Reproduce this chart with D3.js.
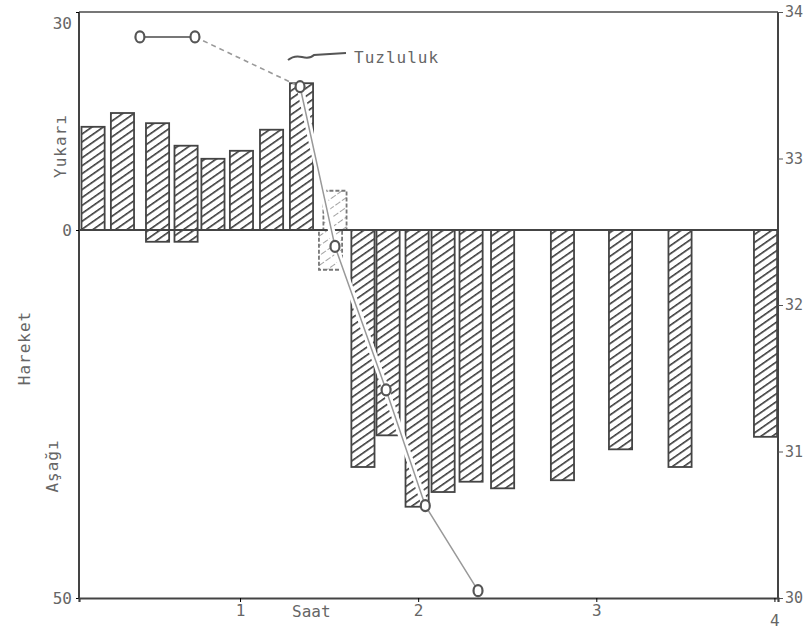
<!DOCTYPE html>
<html>
<head>
<meta charset="utf-8">
<script src="https://cdn.jsdelivr.net/npm/d3@7"></script>
<style>
  body { margin: 0; background: #fff; }
  text { font-family: "DejaVu Sans Mono", monospace; fill: #666; }
</style>
</head>
<body>
<svg id="chart"></svg>
<script>
// Hareket (cm) bars: time in hours, top and bottom of each bar
const barTime = [0.175, 0.34, 0.537, 0.697, 0.848, 1.008, 1.177, 1.345, 1.533, 1.508,
                 1.69, 1.831, 1.994, 2.14, 2.297, 2.474, 2.81, 3.136, 3.47, 3.95];
const barHigh = [14.2, 16.1, 14.7, 11.6, 9.8, 10.9, 13.8, 20.2, 5.4, 0,
                 0, 0, 0, 0, 0, 0, 0, 0, 0, 0];
const barLow  = [0, 0, -1.6, -1.6, 0, 0, 0, 0, 0, -5.4,
                 -32.2, -27.9, -37.6, -35.6, -34.2, -35.1, -34.0, -29.8, -32.2, -28.1];

// Tuzluluk (salinity) line
const salTime  = [0.438, 0.747, 1.337, 1.533, 1.82, 2.04, 2.336];
const salValue = [33.83, 33.83, 33.49, 32.40, 31.42, 30.63, 30.05];

const hourTicks = [1, 2, 3, 4];
const leftTicks = [30, 0, -50];
const rightTicks = [30, 31, 32, 33, 34];

const W = 811, H = 632;
const svg = d3.select("#chart").attr("width", W).attr("height", H);

const x = d3.scaleLinear().domain([0.096, 4.02]).range([79, 778]);
const y = d3.scaleLinear().domain([-50, 0, 30]).range([598, 230, 12]);
const yR = d3.scaleLinear().domain([30, 34]).range([598, 12]);
const barW = x(0.13) - x(0);

// hatch patterns
const defs = svg.append("defs");
defs.append("pattern")
    .attr("id", "hatch")
    .attr("patternUnits", "userSpaceOnUse")
    .attr("width", 6.5).attr("height", 6.5)
    .attr("patternTransform", "rotate(55)")
    .append("line")
    .attr("x1", 0).attr("y1", 0).attr("x2", 0).attr("y2", 6.5)
    .attr("stroke", "#3a3a3a").attr("stroke-width", 3.2);
defs.append("pattern")
    .attr("id", "hatchLight")
    .attr("patternUnits", "userSpaceOnUse")
    .attr("width", 8).attr("height", 8)
    .attr("patternTransform", "rotate(55)")
    .append("line")
    .attr("x1", 0).attr("y1", 0).attr("x2", 0).attr("y2", 8)
    .attr("stroke", "#999").attr("stroke-width", 1.8)
    .attr("stroke-dasharray", "3,2");

const bars = barTime.map((t, i) => ({ t, hi: barHigh[i], lo: barLow[i], light: i === 8 || i === 9 }));

// frame top
svg.append("line").attr("x1", x.range()[0]).attr("x2", x.range()[1])
    .attr("y1", y(30)).attr("y2", y(30))
    .attr("stroke", "#777").attr("stroke-width", 2);

// bars
svg.selectAll(".bar")
    .data(bars)
    .enter().append("rect")
    .attr("class", "bar")
    .attr("x", d => x(d.t) - barW / 2)
    .attr("width", barW)
    .attr("y", d => y(d.hi))
    .attr("height", d => y(d.lo) - y(d.hi))
    .attr("fill", d => d.light ? "url(#hatchLight)" : "url(#hatch)")
    .attr("stroke", d => d.light ? "#777" : "#444")
    .attr("stroke-width", 1.8)
    .attr("stroke-dasharray", d => d.light ? "4,2" : null);

// zero line
svg.append("line").attr("x1", x.range()[0]).attr("x2", x.range()[1])
    .attr("y1", y(0)).attr("y2", y(0))
    .attr("stroke", "#444").attr("stroke-width", 2.2);

// salinity line
const sal = salTime.map((t, i) => ({ t, v: salValue[i] }));
const line = d3.line().x(d => x(d.t)).y(d => yR(d.v));

svg.append("path").datum(sal.slice(0, 2)).attr("d", line)
    .attr("fill", "none").attr("stroke", "#777").attr("stroke-width", 2);
svg.append("path").datum(sal.slice(1, 3)).attr("d", line)
    .attr("fill", "none").attr("stroke", "#999").attr("stroke-width", 1.6)
    .attr("stroke-dasharray", "5,4");
svg.append("path").datum(sal.slice(2)).attr("d", line)
    .attr("fill", "none").attr("stroke", "#fff").attr("stroke-width", 7);
svg.append("path").datum(sal.slice(2)).attr("d", line)
    .attr("fill", "none").attr("stroke", "#999").attr("stroke-width", 1.5);

svg.selectAll(".pt")
    .data(sal)
    .enter().append("ellipse")
    .attr("class", "pt")
    .attr("cx", d => x(d.t))
    .attr("cy", d => yR(d.v))
    .attr("rx", 4.5).attr("ry", 5.5)
    .attr("fill", "#fff")
    .attr("stroke", "#555")
    .attr("stroke-width", 2.2);

// Tuzluluk label with pointer
svg.append("path")
    .attr("d", "M288,60 q6,-5 14,-3 q8,2 12,-2 l32,-2")
    .attr("fill", "none").attr("stroke", "#555").attr("stroke-width", 2);
svg.append("text")
    .attr("x", 354).attr("y", 63)
    .style("font-size", "16px")
    .style("letter-spacing", "1px")
    .text("Tuzluluk");

// frame sides
svg.append("line").attr("x1", x.range()[0]).attr("x2", x.range()[0])
    .attr("y1", y(30)).attr("y2", y(-50))
    .attr("stroke", "#444").attr("stroke-width", 2);
svg.append("line").attr("x1", x.range()[1]).attr("x2", x.range()[1])
    .attr("y1", y(30)).attr("y2", y(-50))
    .attr("stroke", "#444").attr("stroke-width", 2);

// axes
const fmt = d3.format("d");
const leftAxis = svg.append("g")
    .attr("transform", `translate(${x.range()[0]},0)`)
    .call(d3.axisLeft(y).tickValues(leftTicks).tickFormat(d => fmt(Math.abs(d))).tickSize(3).tickPadding(4));
leftAxis.select(".domain").remove();
leftAxis.selectAll("text").style("font-size", "16px")
    .attr("dy", d => d === 30 ? "1.0em" : "0.32em");

const rightAxis = svg.append("g")
    .attr("transform", `translate(${x.range()[1]},0)`)
    .call(d3.axisRight(yR).tickValues(rightTicks).tickFormat(fmt).tickSize(5).tickPadding(2));
rightAxis.select(".domain").remove();
rightAxis.selectAll("text").style("font-size", "15px");
rightAxis.selectAll("line").attr("stroke", "#555");

const bottomAxis = svg.append("g")
    .attr("transform", `translate(0,${y(-50)})`)
    .call(d3.axisBottom(x).tickValues(hourTicks).tickFormat(fmt).tickSize(4).tickPadding(3));
bottomAxis.select(".domain").attr("stroke", "#444").attr("stroke-width", 2.2);
bottomAxis.selectAll("text").style("font-size", "16px")
    .attr("dy", d => d === 4 ? "1.3em" : "0.71em");

svg.append("text")
    .attr("x", x(1.4)).attr("y", 617)
    .attr("text-anchor", "middle")
    .style("font-size", "16px")
    .text("Saat");

// vertical axis titles
const vlabel = (txt, cx, cy) => svg.append("text")
    .attr("transform", `translate(${cx},${cy}) rotate(-90)`)
    .attr("text-anchor", "middle")
    .attr("dy", "0.35em")
    .style("font-size", "16px")
    .style("letter-spacing", "1px")
    .text(txt);
vlabel("Yukarı", 60, 146);
vlabel("Hareket", 24, 348);
vlabel("Aşağı", 52, 466);
</script>
</body>
</html>
